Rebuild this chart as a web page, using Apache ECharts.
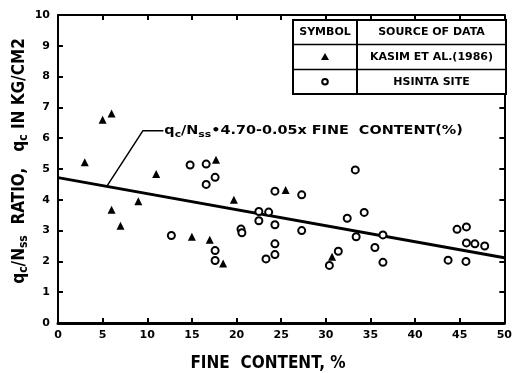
<!DOCTYPE html>
<html><head><meta charset="utf-8">
<script src="https://cdn.jsdelivr.net/npm/echarts@6/dist/echarts.min.js"></script>
<style>html,body{margin:0;padding:0;background:#fff}#c{width:515px;height:373px}</style>
</head><body><div id="c"></div>
<script>
var xTicks = [0,5,10,15,20,25,30,35,40,45,50];
var yTicks = [0,1,2,3,4,5,6,7,8,9,10];
var kasimX = [3,5,6,6,7,9,11,15,17,17.7,18.5,19.7,25.5,30.7];
var kasimY = [5.22,6.6,6.8,3.68,3.16,3.95,4.84,2.8,2.7,5.3,1.93,4.0,4.32,2.15];
var hsintaX = [12.7,14.8,16.6,16.6,17.6,17.6,17.6,20.5,20.6,22.5,22.5,23.6,23.3,24.3,24.3,24.3,24.3,27.3,27.3,30.4,31.4,32.4,33.3,33.4,34.3,35.5,36.4,36.4,43.7,44.7,45.75,45.75,45.7,46.7,47.8];
var hsintaY = [2.84,5.13,5.16,4.5,4.73,2.35,2.03,3.05,2.93,3.32,3.62,3.6,2.08,3.19,2.57,2.22,4.28,4.16,3.0,1.87,2.33,3.4,4.97,2.8,3.59,2.45,2.86,1.97,2.04,3.04,3.12,2.6,2.0,2.57,2.5];
var fitX = [0,50];
var fitY = [4.72,2.12];
var leaderX = [5.5,9.5,11.8];
var leaderY = [4.45,6.24,6.24];
var legendRows = [['SYMBOL','SOURCE OF DATA'],['tri','KASIM ET AL.(1986)'],['circ','HSINTA SITE']];

function zip(a,b){return a.map(function(v,i){return [v,b[i]];});}
var FONT = '"DejaVu Sans", sans-serif';
var CFONT = '"DejaVu Sans Condensed", "DejaVu Sans", sans-serif';
var chart = echarts.init(document.getElementById('c'));
var G = {left:58, top:15, right:9, bottom:50};
var tickCommon = {show:true, inside:true, length:5, lineStyle:{color:'#000', width:2}};
chart.setOption({
  animation:false,
  backgroundColor:'#fff',
  grid:G,
  xAxis:[{type:'value', min:0, max:50, interval:5, position:'bottom',
    axisLine:{show:true, onZero:false, lineStyle:{color:'#000', width:3}},
    axisTick:tickCommon, splitLine:{show:false},
    axisLabel:{color:'#000', fontSize:11, fontWeight:'bold', fontFamily:FONT, margin:7,
      formatter:function(v){return xTicks.indexOf(v)>=0?String(v):'';}}},
   {type:'value', min:0, max:50, interval:5, position:'top',
    axisLine:{show:true, onZero:false, lineStyle:{color:'#000', width:2}},
    axisTick:tickCommon, axisLabel:{show:false}, splitLine:{show:false}}],
  yAxis:[{type:'value', min:0, max:10, interval:1, position:'left',
    axisLine:{show:true, onZero:false, lineStyle:{color:'#000', width:2}},
    axisTick:tickCommon, splitLine:{show:false},
    axisLabel:{color:'#000', fontSize:11, fontWeight:'bold', fontFamily:FONT, margin:8,
      formatter:function(v){return yTicks.indexOf(v)>=0?String(v):'';}}},
   {type:'value', min:0, max:10, interval:1, position:'right',
    axisLine:{show:true, onZero:false, lineStyle:{color:'#000', width:2}},
    axisTick:tickCommon, axisLabel:{show:false}, splitLine:{show:false}}],
  series:[
    {type:'line', data:zip(fitX,fitY), symbol:'none', lineStyle:{color:'#000', width:3}, z:2},
    {type:'line', data:zip(leaderX,leaderY), symbol:'none', lineStyle:{color:'#000', width:1.5}, z:2},
    {type:'scatter', name:'KASIM', data:zip(kasimX,kasimY), symbol:'triangle', symbolSize:8,
      itemStyle:{color:'#000', opacity:1}, z:3},
    {type:'scatter', name:'HSINTA', data:zip(hsintaX,hsintaY), symbol:'circle', symbolSize:7,
      itemStyle:{color:'#fff', borderColor:'#000', borderWidth:2, opacity:1}, z:3}
  ]
});

var p = chart.convertToPixel({gridIndex:0},[leaderX[2], leaderY[2]]);
var tl = [293, 20], tr = 506, tb = 94, col = 357, rows = [20, 44.5, 69.5, 94];
var g = [];
// y axis title
g.push({type:'text', x:20, y:161, rotation:Math.PI/2, style:{
  text:'{a|q}{s|c}{a|/N}{s|ss}{a|  RATIO,   q}{s|c}{a| IN KG/CM2}',
  align:'center', verticalAlign:'middle',
  rich:{a:{fontSize:17, fontWeight:'bold', fontFamily:CFONT, fill:'#000', lineHeight:20},
        s:{fontSize:12, fontWeight:'bold', fontFamily:CFONT, fill:'#000', lineHeight:20, verticalAlign:'bottom'}}}});
// x axis title
g.push({type:'text', x:268, y:364, style:{text:'FINE  CONTENT, %', align:'center', verticalAlign:'middle',
  fontSize:17, fontWeight:'bold', fontFamily:CFONT, fill:'#000'}});
// equation
g.push({type:'text', x:p[0]+1, y:p[1], scaleX:1.2, style:{
  text:'{a|q}{s|c}{a|/N}{s|ss}{a|\u20224.70-0.05x FINE  CONTENT(%)}', align:'left', verticalAlign:'middle',
  rich:{a:{fontSize:12, fontWeight:'bold', fontFamily:FONT, fill:'#000', lineHeight:16},
        s:{fontSize:9, fontWeight:'bold', fontFamily:FONT, fill:'#000', lineHeight:16, verticalAlign:'bottom'}}}});
// legend table
g.push({type:'rect', shape:{x:tl[0], y:rows[0], width:tr-tl[0], height:tb-rows[0]}, style:{fill:'#fff', stroke:'#000', lineWidth:2}, z:10});
g.push({type:'line', shape:{x1:col, y1:rows[0], x2:col, y2:tb}, style:{stroke:'#000', lineWidth:2}, z:11});
g.push({type:'line', shape:{x1:tl[0], y1:rows[1], x2:tr, y2:rows[1]}, style:{stroke:'#000', lineWidth:1.5}, z:11});
g.push({type:'line', shape:{x1:tl[0], y1:rows[2], x2:tr, y2:rows[2]}, style:{stroke:'#000', lineWidth:1.5}, z:11});
var c1 = (tl[0]+col)/2, c2 = (col+tr)/2;
legendRows.forEach(function(r,i){
  var cy = (rows[i]+rows[i+1])/2;
  if (r[0]==='tri') {
    g.push({type:'polygon', shape:{points:[[c1,cy-4],[c1-4,cy+3],[c1+4,cy+3]]}, style:{fill:'#000'}, z:12});
  } else if (r[0]==='circ') {
    g.push({type:'circle', shape:{cx:c1, cy:cy, r:2.8}, style:{fill:'#fff', stroke:'#000', lineWidth:2}, z:12});
  } else {
    g.push({type:'text', x:c1, y:cy, style:{text:r[0], align:'center', verticalAlign:'middle', fontSize:11, fontWeight:'bold', fontFamily:FONT, fill:'#000'}, z:12});
  }
  g.push({type:'text', x:c2, y:cy, style:{text:r[1], align:'center', verticalAlign:'middle', fontSize:11, fontWeight:'bold', fontFamily:FONT, fill:'#000'}, z:12});
});
chart.setOption({graphic:g});
</script></body></html>
